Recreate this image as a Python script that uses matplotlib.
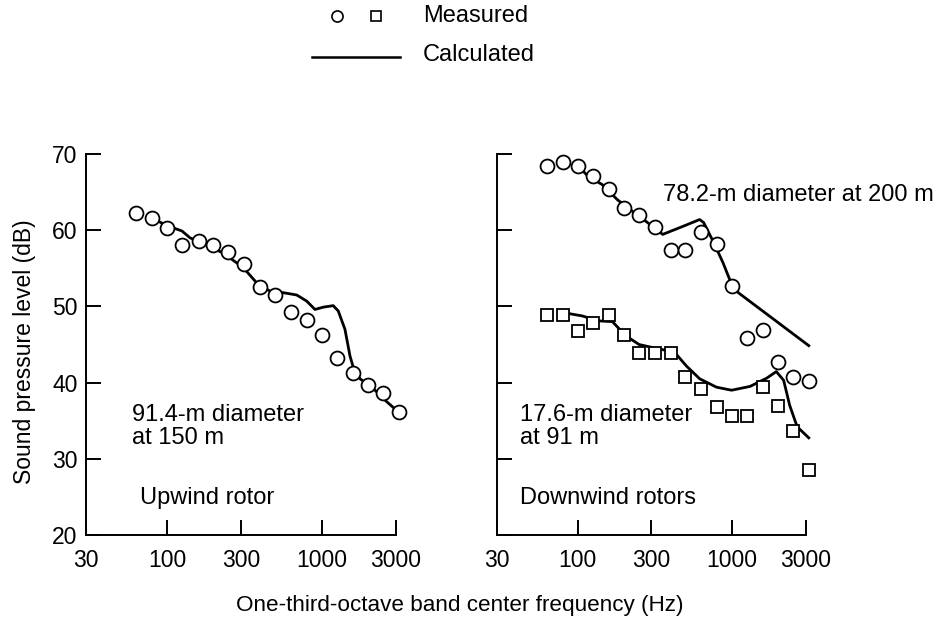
import matplotlib
matplotlib.use('Agg')
from matplotlib import pyplot as plt
from matplotlib.lines import Line2D
from matplotlib.ticker import FixedLocator, NullLocator, FixedFormatter

plt.rcParams['font.family'] = ['Liberation Sans', 'DejaVu Sans']
plt.rcParams['font.size'] = 17

# one-third-octave band centres (Hz)
bands = [63, 80, 100, 125, 160, 200, 250, 315, 400, 500, 630, 800,
         1000, 1250, 1600, 2000, 2500, 3150]

# upwind rotor, 91.4 m at 150 m
up_meas = [62.3, 61.6, 60.3, 58.0, 58.6, 58.0, 57.1, 55.6, 52.5, 51.5, 49.2, 48.2,
           46.2, 43.2, 41.3, 39.7, 38.6, 36.1]
up_calc_f = [80, 100, 125, 141, 172, 231, 311, 380, 463, 565, 689, 800, 905,
             1024, 1188, 1280, 1414, 1524, 1600, 1770, 2160, 2630, 3150]
up_calc = [61.6, 60.6, 59.9, 59.0, 58.25, 57.0, 55.1, 53.1, 52.0, 51.8, 51.5, 50.7, 49.6,
           49.9, 50.1, 49.4, 47.0, 43.5, 42.0, 40.5, 39.2, 37.5, 36.1]

# downwind rotors: 78.2 m at 200 m (circles), 17.6 m at 91 m (squares)
big_meas = [68.4, 68.9, 68.4, 67.1, 65.4, 62.9, 62.0, 60.4, 57.4, 57.4, 59.8, 58.25,
            52.7, 45.9, 46.9, 42.75, 40.7, 40.2]
big_calc_f = [100, 109, 118, 144, 181, 226, 284, 356, 481, 618, 656, 755, 877,
              995, 1100, 3150]
big_calc = [68.4, 67.7, 67.0, 66.0, 64.0, 62.5, 61.0, 59.45, 60.5, 61.4, 61.0, 58.55, 55.7,
            52.9, 51.8, 44.85]

small_meas = [48.85, 48.85, 46.8, 47.8, 48.85, 46.3, 43.85, 43.85, 43.85, 40.7, 39.2, 36.8,
              35.6, 35.6, 39.4, 36.9, 33.6, 28.5]
small_calc_f = [80, 107, 137, 168, 205, 250, 322, 424, 506, 618, 794, 995, 1311,
                1686, 1940, 2165, 2370, 2650, 3150]
small_calc = [49.2, 48.75, 48.1, 48.0, 46.15, 45.0, 44.5, 44.0, 42.2, 40.5, 39.4, 39.0, 39.5,
              40.6, 41.45, 40.3, 37.0, 34.2, 32.75]

xticks = [30, 100, 300, 1000, 3000]
yticks = [20, 30, 40, 50, 60, 70]

W, H = 939, 620
fig = plt.figure(figsize=(W / 100, H / 100), dpi=100)
ax1 = fig.add_axes([86 / W, 85 / H, 309.5 / W, 381 / H])
ax2 = fig.add_axes([497 / W, 85 / H, 308.5 / W, 381 / H])

circ = dict(marker='o', ms=10, mfc='white', mec='black', mew=1.3, ls='none',
            clip_on=False, zorder=3)
sq = dict(marker='s', ms=8.5, mfc='white', mec='black', mew=1.3, ls='none',
          clip_on=False, zorder=3)
line = dict(color='black', lw=2.0, clip_on=False, zorder=2)

ax1.plot(up_calc_f, up_calc, **line)
ax1.plot(bands, up_meas, **circ)

ax2.plot(big_calc_f, big_calc, **line)
ax2.plot(small_calc_f, small_calc, **line)
ax2.plot(bands, big_meas, **circ)
ax2.plot(bands, small_meas, **sq)

for ax in (ax1, ax2):
    ax.set_xscale('log')
    ax.set_xlim(30, 3000)
    ax.set_ylim(20, 70)
    ax.spines['top'].set_visible(False)
    ax.spines['right'].set_visible(False)
    for s in ('left', 'bottom'):
        ax.spines[s].set_linewidth(1.4)
    ax.xaxis.set_major_locator(FixedLocator(xticks))
    ax.xaxis.set_major_formatter(FixedFormatter([str(t) for t in xticks]))
    ax.xaxis.set_minor_locator(NullLocator())
    ax.yaxis.set_major_locator(FixedLocator(yticks))
    ax.yaxis.set_minor_locator(NullLocator())
    ax.tick_params(direction='in', length=11, width=1.4, labelsize=16.5)
    ax.tick_params(axis='x', pad=10)
    ax.tick_params(axis='y', pad=6)
    ax.patch.set_alpha(0)

ax2.tick_params(axis='y', labelleft=False)

ax1.text(0.149, 0.285, '91.4-m diameter\nat 150 m', transform=ax1.transAxes,
         va='center', ha='left', linespacing=1.1)
ax1.text(0.174, 0.097, 'Upwind rotor', transform=ax1.transAxes, va='center', ha='left')
ax2.text(0.539, 0.892, '78.2-m diameter at 200 m', transform=ax2.transAxes,
         va='center', ha='left')
ax2.text(0.075, 0.285, '17.6-m diameter\nat 91 m', transform=ax2.transAxes,
         va='center', ha='left', linespacing=1.1)
ax2.text(0.075, 0.097, 'Downwind rotors', transform=ax2.transAxes, va='center', ha='left')

fig.text(25 / W, 1 - 352 / H, 'Sound pressure level (dB)', rotation=90,
         ha='center', va='center', fontsize=16.5)
fig.text(460 / W, 1 - 605 / H, 'One-third-octave band center frequency (Hz)',
         ha='center', va='center', fontsize=16.2)

# legend drawn at the top of the figure
fig.add_artist(Line2D([337 / W], [1 - 16 / H], marker='o', ms=8, mfc='white',
                      mec='black', mew=1.2, ls='none', transform=fig.transFigure))
fig.add_artist(Line2D([376 / W], [1 - 16 / H], marker='s', ms=7, mfc='white',
                      mec='black', mew=1.2, ls='none', transform=fig.transFigure))
fig.add_artist(Line2D([312 / W, 400 / W], [1 - 57 / H, 1 - 57 / H], color='black',
                      lw=1.8, transform=fig.transFigure))
fig.text(423 / W, 1 - 16 / H, 'Measured', ha='left', va='center')
fig.text(423 / W, 1 - 55 / H, 'Calculated', ha='left', va='center')

fig.savefig('out.png', dpi=100)
